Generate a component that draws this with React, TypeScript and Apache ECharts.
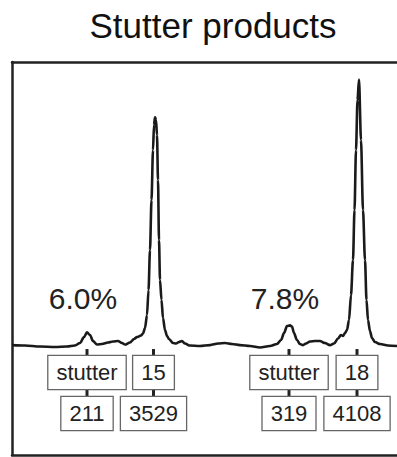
import React, { useEffect, useRef } from "react";
import * as echarts from "echarts";

// Electropherogram trace: [scan position, RFU]
const traceX = [0, 13, 28, 43, 55, 63, 68, 72, 75, 78, 81, 85, 90, 96, 101, 106, 110, 113, 118, 122, 125, 129, 131, 133, 135, 136.5, 138, 139.5, 141, 142, 143, 144, 145, 146, 147, 148, 149.5, 151, 153, 155, 157, 161, 164, 167, 170, 173, 178, 188, 198, 206, 213, 220, 228, 238, 248, 258, 265, 269, 272, 275, 278, 280, 282, 285, 288, 291, 294, 298, 303, 308, 313, 318, 322, 326, 329, 331, 333, 335, 337, 339, 341, 342.5, 344, 345.5, 347, 349, 351, 353, 354.5, 356, 358, 360, 363, 368, 376, 385];
const traceRFU = [15, 8, -8, -15, -8, 8, 46, 139, 211, 170, 77, 23, 31, 54, 69, 77, 46, 23, 54, 108, 139, 162, 193, 278, 478, 864, 1480, 2251, 3022, 3408, 3529, 3485, 3254, 2560, 1635, 1018, 709, 432, 247, 154, 108, 46, 39, 62, 77, 39, 8, 0, 15, 39, 46, 31, 15, 0, -23, 0, 31, 93, 200, 308, 319, 300, 200, 93, 31, 15, 39, 69, 77, 77, 46, 15, 39, 116, 170, 154, 200, 247, 401, 786, 1326, 2097, 3022, 3793, 4108, 3177, 2097, 1326, 709, 401, 231, 123, 62, 31, 8, 0];

// Peak labels
const peakX = [75, 141.5, 277, 345];
const peakNames = ["stutter", "15", "stutter", "18"];
const peakHeights = [211, 3529, 319, 4108];
// stutter/allele pairs (indices into the peak arrays)
const stutterIdx = [0, 2];
const alleleIdx = [1, 3];

const FONT = '"Liberation Sans", Arial, Helvetica, sans-serif';

export default function App() {
  const ref = useRef<HTMLDivElement>(null);
  useEffect(() => {
    document.body.style.margin = "0";
    if (!ref.current) return;
    const chart = echarts.init(ref.current, null, { renderer: "svg" });
    const traceData = traceX.map((x, i) => [x, traceRFU[i]]);
    const labelData = peakX.map((x, i) => [x, i]);
    const pctData = stutterIdx.map((s, k) => [peakX[s], k]);

    chart.setOption({
      animation: false,
      title: {
        text: "Stutter products",
        left: 208,
        top: 3,
        textAlign: "center",
        textStyle: { fontFamily: FONT, fontSize: 35, fontWeight: "normal", color: "#111" },
      },
      grid: { left: 12, right: 0, top: 62, bottom: 2 },
      xAxis: [
        {
          type: "value",
          min: 0,
          max: 385,
          position: "bottom",
          axisLine: { show: true, onZero: false, lineStyle: { color: "#222", width: 2.5 } },
          axisTick: { show: false },
          axisLabel: { show: false },
          splitLine: { show: false },
        },
        {
          type: "value",
          min: 0,
          max: 385,
          position: "top",
          axisLine: { show: true, onZero: false, lineStyle: { color: "#222", width: 2.5 } },
          axisTick: { show: false },
          axisLabel: { show: false },
          splitLine: { show: false },
        },
      ],
      yAxis: {
        type: "value",
        min: -1680,
        max: 4380,
        axisLine: { show: true, onZero: false, lineStyle: { color: "#222", width: 2.5 } },
        axisTick: { show: false },
        axisLabel: { show: false },
        splitLine: { show: false },
      },
      series: [
        {
          type: "line",
          data: traceData,
          showSymbol: false,
          symbol: "none",
          smooth: 0.3,
          smoothMonotone: "x",
          lineStyle: { color: "#1a1a1a", width: 2.6 },
          z: 3,
        },
        {
          type: "custom",
          data: labelData,
          z: 4,
          renderItem: (params: any, api: any) => {
            const i = api.value(1);
            const pt = api.coord([api.value(0), 0]);
            const px = pt[0];
            const py = pt[1];
            const boxStyle = {
              fontFamily: FONT,
              fontSize: 22,
              lineHeight: 23,
              fill: "#222",
              align: "center",
              verticalAlign: "top",
              backgroundColor: "#fff",
              borderColor: "#666",
              borderWidth: 1.3,
              padding: [5, 8, 5, 8],
            };
            return {
              type: "group",
              children: [
                {
                  type: "line",
                  shape: { x1: px, y1: py + 3, x2: px, y2: py + 10 },
                  style: { stroke: "#222", lineWidth: 3 },
                },
                {
                  type: "line",
                  shape: { x1: px, y1: py + 43, x2: px, y2: py + 51 },
                  style: { stroke: "#222", lineWidth: 3 },
                },
                {
                  type: "text",
                  x: px,
                  y: py + 10,
                  style: { ...boxStyle, text: peakNames[i] },
                },
                {
                  type: "text",
                  x: px,
                  y: py + 51,
                  style: { ...boxStyle, text: String(peakHeights[i]) },
                },
              ],
            };
          },
        },
        {
          type: "custom",
          data: pctData,
          z: 4,
          renderItem: (params: any, api: any) => {
            const k = api.value(1);
            const pt = api.coord([api.value(0), 0]);
            const pct = (peakHeights[stutterIdx[k]] / peakHeights[alleleIdx[k]]) * 100;
            return {
              type: "text",
              x: pt[0] - 4,
              y: pt[1] - 48,
              style: {
                text: pct.toFixed(1) + "%",
                fontFamily: FONT,
                fontSize: 30,
                fill: "#222",
                align: "center",
                verticalAlign: "middle",
              },
            };
          },
        },
      ],
    });
    return () => chart.dispose();
  }, []);
  return <div ref={ref} style={{ width: 397, height: 457 }} />;
}
